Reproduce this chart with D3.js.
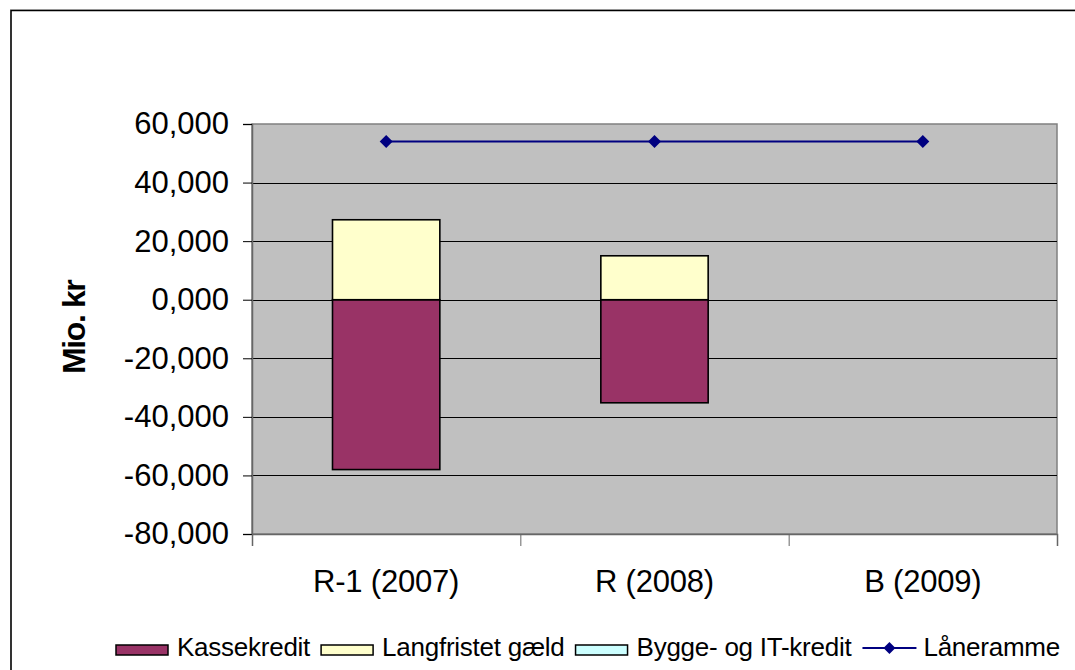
<!DOCTYPE html>
<html>
<head>
<meta charset="utf-8">
<script src="https://cdn.jsdelivr.net/npm/d3@7"></script>
<style>
  html, body { margin: 0; padding: 0; background: #fff; }
  svg { display: block; font-family: "Liberation Sans", Arial, sans-serif; }
</style>
</head>
<body>
<svg id="chart" width="1075" height="670"></svg>
<script>
// ---- Data ----
const categories = ["R-1 (2007)", "R (2008)", "B (2009)"];
const kassekredit = [-58.0, -35.2, 0];
const langfristet = [27.3, 15.0, 0];
const byggeIT = [0, 0, 0];
const laaneramme = [54, 54, 54];
const yTicks = [-80, -60, -40, -20, 0, 20, 40, 60];
const seriesNames = ["Kassekredit", "Langfristet gæld", "Bygge- og IT-kredit", "Låneramme"];
const seriesColors = ["#993366", "#FFFFCC", "#CCFFFF", "#000080"];

// ---- Layout ----
const svg = d3.select("#chart");
const plot = { left: 252, right: 1057, top: 124, bottom: 534 };

const x = d3.scaleBand().domain(categories).range([plot.left, plot.right])
  .paddingInner(0.6).paddingOuter(0.3);
const y = d3.scaleLinear().domain([-80, 60]).range([plot.bottom, plot.top]);

const loc = d3.formatLocale({ decimal: ",", thousands: ".", grouping: [3], currency: ["", " kr"], minus: "-" });
const fmt = loc.format(".3f");

// outer frame
svg.append("line").attr("x1", 10).attr("x2", 1075).attr("y1", 9.5).attr("y2", 9.5)
  .attr("stroke", "#c8c8c8").attr("stroke-width", 1);
svg.append("path").attr("d", "M11,670 V10.5 H1075").attr("fill", "none")
  .attr("stroke", "#000").attr("stroke-width", 1.6);

// plot background
svg.append("rect").attr("x", plot.left).attr("y", plot.top)
  .attr("width", plot.right - plot.left).attr("height", plot.bottom - plot.top)
  .attr("fill", "#C0C0C0").attr("stroke", "#808080").attr("stroke-width", 1.5);

// gridlines
svg.append("g").selectAll("line").data(yTicks.filter(d => d > -80 && d < 60)).join("line")
  .attr("x1", plot.left).attr("x2", plot.right)
  .attr("y1", d => Math.round(y(d)) + 0.5).attr("y2", d => Math.round(y(d)) + 0.5)
  .attr("stroke", "#000").attr("stroke-width", 1);

// y axis
const yAxis = d3.axisLeft(y).tickValues(yTicks).tickFormat(fmt).tickSize(9).tickPadding(14);
const gy = svg.append("g").attr("transform", `translate(${plot.left},0)`).call(yAxis);
gy.select(".domain").attr("stroke", "#666").attr("stroke-width", 1.5);
gy.selectAll(".tick line").attr("stroke", "#000");
gy.selectAll(".tick text").attr("font-size", 31).attr("fill", "#000")
  .attr("font-family", "Liberation Sans, Arial, sans-serif").attr("letter-spacing", "0");

// x axis (category boundaries ticks)
const xb = d3.scaleLinear().domain([0, categories.length]).range([plot.left, plot.right]);
const gx = svg.append("g").attr("transform", `translate(0,${plot.bottom})`)
  .call(d3.axisBottom(xb).ticks(categories.length).tickFormat("").tickSize(12));
gx.select(".domain").attr("stroke", "#666").attr("stroke-width", 1.5);
gx.selectAll(".tick line").attr("stroke", "#666").attr("stroke-width", 1);

svg.append("g").selectAll("text").data(categories).join("text")
  .attr("x", d => x(d) + x.bandwidth() / 2).attr("y", 592)
  .attr("text-anchor", "middle").attr("font-size", 31).attr("letter-spacing", "-0.2")
  .attr("fill", "#000").text(d => d);

// y-axis title (clipped at the top like the reference)
svg.append("defs").append("clipPath").attr("id", "ttlclip")
  .append("rect").attr("x", 40).attr("y", 279).attr("width", 60).attr("height", 120);
svg.append("g").attr("clip-path", "url(#ttlclip)")
  .append("text")
  .attr("transform", "translate(85,374) rotate(-90)")
  .attr("font-size", 32).attr("font-weight", "bold").attr("letter-spacing", "-1.4")
  .attr("fill", "#000").text("Mio. kr");

// stacked bars
const rows = categories.map((c, i) => ({ cat: c, k: kassekredit[i], l: langfristet[i], b: byggeIT[i] }));
const stack = d3.stack().keys(["k", "l", "b"]).offset(d3.stackOffsetDiverging);
const stacked = stack(rows);
svg.append("g").selectAll("g").data(stacked).join("g")
  .attr("fill", (d, i) => seriesColors[i])
  .selectAll("rect").data(d => d.filter(p => p[1] - p[0] !== 0)).join("rect")
  .attr("x", d => x(d.data.cat)).attr("width", x.bandwidth())
  .attr("y", d => y(Math.max(d[0], d[1])))
  .attr("height", d => Math.abs(y(d[0]) - y(d[1])))
  .attr("stroke", "#000").attr("stroke-width", 1.6);

// line series
const lineGen = d3.line().x((d, i) => x(categories[i]) + x.bandwidth() / 2).y(d => y(d));
svg.append("path").datum(laaneramme).attr("d", lineGen)
  .attr("fill", "none").attr("stroke", "#000080").attr("stroke-width", 2);
const diamond = (cx, cy, r) => `M${cx},${cy - r}L${cx + r},${cy}L${cx},${cy + r}L${cx - r},${cy}Z`;
svg.append("g").selectAll("path").data(laaneramme).join("path")
  .attr("d", (d, i) => diamond(x(categories[i]) + x.bandwidth() / 2, y(d), 6.5))
  .attr("fill", "#000080");

// legend
const lg = svg.append("g");
let lx = 116;
const ly = 650;
seriesNames.forEach((name, i) => {
  if (i < 3) {
    lg.append("rect").attr("x", lx).attr("y", ly - 5).attr("width", 52).attr("height", 10)
      .attr("fill", seriesColors[i]).attr("stroke", "#000").attr("stroke-width", 1.5);
    lx += 61;
  } else {
    lg.append("line").attr("x1", lx).attr("x2", lx + 54).attr("y1", ly - 2).attr("y2", ly - 2)
      .attr("stroke", seriesColors[i]).attr("stroke-width", 2);
    lg.append("path").attr("d", diamond(lx + 27, ly - 2, 6)).attr("fill", seriesColors[i]);
    lx += 61;
  }
  const t = lg.append("text").attr("x", lx).attr("y", 656).attr("font-size", 26)
    .attr("letter-spacing", "-0.25").attr("fill", "#000").text(name);
  lx += t.node().getComputedTextLength() + 11;
});
</script>
</body>
</html>
